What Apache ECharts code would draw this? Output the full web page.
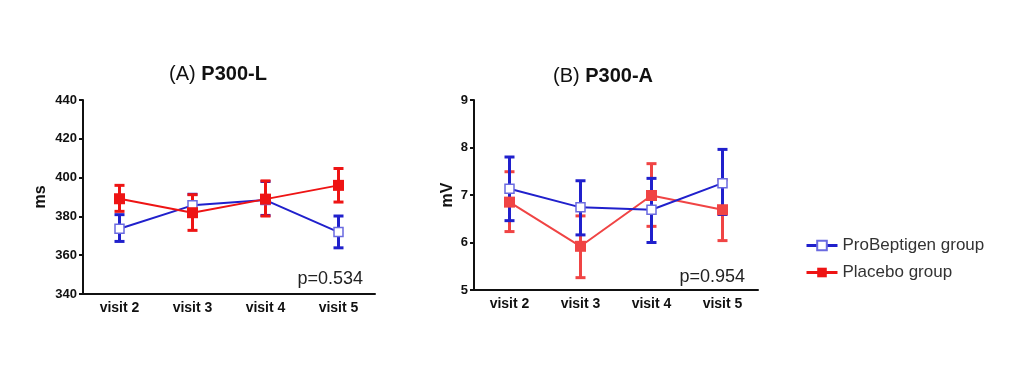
<!DOCTYPE html>
<html>
<head>
<meta charset="utf-8">
<script src="https://cdn.jsdelivr.net/npm/echarts@6/dist/echarts.min.js"></script>
<style>
html,body{margin:0;padding:0;background:#fff;}
#c{width:1024px;height:367px;}
</style>
</head>
<body>
<div id="c"></div>
<script>
const categories = ['visit 2', 'visit 3', 'visit 4', 'visit 5'];

// (A) P300-L (ms)
const aProMean = [373.6, 385.7, 388.4, 371.9];
const aProLow  = [367.1, 380.0, 380.5, 363.8];
const aProHigh = [380.9, 391.4, 398.0, 380.2];
const aPlaMean = [389.1, 381.9, 388.9, 396.0];
const aPlaLow  = [382.6, 372.8, 380.2, 387.4];
const aPlaHigh = [396.0, 391.2, 398.3, 404.7];
const aTicks = {min: 340, max: 440, interval: 20};

// (B) P300-A (mV)
const bProMean = [7.13, 6.74, 6.69, 7.25];
const bProLow  = [6.46, 6.16, 6.00, 6.59];
const bProHigh = [7.80, 7.30, 7.35, 7.96];
const bPlaMean = [6.85, 5.92, 6.99, 6.69];
const bPlaLow  = [6.23, 5.26, 6.34, 6.04];
const bPlaHigh = [7.49, 6.56, 7.66, 7.32];
const bTicks = {min: 5, max: 9, interval: 1};

const pA = 'p=0.534';
const pB = 'p=0.954';
const seriesNames = ['ProBeptigen group', 'Placebo group'];

const BLUE = '#2020cc';
const BLUE_M = '#6a6ae0';
const RED_A = '#ee1414';
const RED_B = '#f04444';
const FONT = 'Liberation Sans, Arial, sans-serif';

function errData(low, high) {
  return low.map((l, i) => [i, l, high[i]]);
}
function errSeries(name, low, high, color, axisIdx, z) {
  return {
    type: 'custom', name: name + ' (error)', xAxisIndex: axisIdx, yAxisIndex: axisIdx, z: z,
    data: errData(low, high),
    itemStyle: {color: color},
    renderItem: function (params, api) {
      const x = api.value(0);
      const lo = api.coord([x, api.value(1)]);
      const hi = api.coord([x, api.value(2)]);
      const hw = 5;
      const st = {stroke: color, lineWidth: 3};
      return {
        type: 'group',
        children: [
          {type: 'line', shape: {x1: lo[0], y1: lo[1], x2: hi[0], y2: hi[1]}, style: st},
          {type: 'line', shape: {x1: lo[0] - hw, y1: lo[1], x2: lo[0] + hw, y2: lo[1]}, style: st},
          {type: 'line', shape: {x1: hi[0] - hw, y1: hi[1], x2: hi[0] + hw, y2: hi[1]}, style: st}
        ]
      };
    }
  };
}
function lineSeries(name, data, color, hollow, axisIdx, z) {
  return {
    type: 'line', name: name, xAxisIndex: axisIdx, yAxisIndex: axisIdx, z: z,
    data: data,
    symbol: 'rect',
    symbolSize: hollow ? 9 : 11,
    lineStyle: {color: color, width: 2},
    itemStyle: hollow ? {color: '#ffffff', borderColor: BLUE_M, borderWidth: 1.5} : {color: color},
    emphasis: {disabled: true},
    animation: false
  };
}

const axisLabelStyle = {color: '#111', fontWeight: 'bold', fontFamily: FONT};
function xAxis(grid) {
  return {
    type: 'category', gridIndex: grid, data: categories,
    axisLine: {lineStyle: {color: '#111', width: 2}},
    axisTick: {alignWithLabel: true, length: 5, lineStyle: {color: '#111', width: 2}},
    axisLabel: Object.assign({fontSize: 14, margin: 7}, axisLabelStyle),
    splitLine: {show: false}
  };
}
function yAxis(grid, t, name, gap) {
  return {
    type: 'value', gridIndex: grid, min: t.min, max: t.max, interval: t.interval,
    name: name, nameLocation: 'middle', nameGap: gap, nameRotate: 90,
    nameTextStyle: {fontSize: 16, fontWeight: 'bold', color: '#111', fontFamily: FONT},
    axisLine: {show: true, lineStyle: {color: '#111', width: 2}},
    axisTick: {show: true, length: 4, lineStyle: {color: '#111', width: 2}},
    axisLabel: Object.assign({fontSize: 13, margin: 6}, axisLabelStyle),
    splitLine: {show: false}
  };
}

const titleRich = {
  n: {fontSize: 20, fontWeight: 'normal', color: '#111', fontFamily: FONT},
  b: {fontSize: 20, fontWeight: 'bold', color: '#111', fontFamily: FONT}
};

const chart = echarts.init(document.getElementById('c'));
chart.setOption({
  animation: false,
  backgroundColor: '#fff',
  textStyle: {fontFamily: FONT},
  title: [
    {text: '{n|(A)} {b|P300-L}', left: 213, top: 59, textAlign: 'center',
     textStyle: {fontSize: 20, fontWeight: 'normal', rich: titleRich}},
    {text: '{n|(B)} {b|P300-A}', left: 598, top: 61, textAlign: 'center',
     textStyle: {fontSize: 20, fontWeight: 'normal', rich: titleRich}}
  ],
  grid: [
    {left: 83, right: 649, top: 100, bottom: 73},
    {left: 474, right: 266, top: 100, bottom: 77}
  ],
  xAxis: [xAxis(0), xAxis(1)],
  yAxis: [yAxis(0, aTicks, 'ms', 34), yAxis(1, bTicks, 'mV', 18)],
  legend: {
    orient: 'vertical', left: 800, top: 232, itemGap: 10,
    itemWidth: 31, itemHeight: 12,
    lineStyle: {width: 3},
    data: seriesNames,
    textStyle: {fontSize: 17, color: '#333', fontFamily: FONT},
    selectedMode: false
  },
  graphic: [
    {type: 'text', right: 1024 - 363, top: 270, style: {text: pA, fill: '#222', font: '18px ' + FONT}},
    {type: 'text', right: 1024 - 745, top: 268, style: {text: pB, fill: '#222', font: '18px ' + FONT}}
  ],
  series: [
    errSeries(seriesNames[0], aProLow, aProHigh, BLUE, 0, 2),
    errSeries(seriesNames[1], aPlaLow, aPlaHigh, RED_A, 0, 3),
    lineSeries(seriesNames[0], aProMean, BLUE, true, 0, 4),
    lineSeries(seriesNames[1], aPlaMean, RED_A, false, 0, 5),
    errSeries(seriesNames[1], bPlaLow, bPlaHigh, RED_B, 1, 2),
    errSeries(seriesNames[0], bProLow, bProHigh, BLUE, 1, 3),
    lineSeries(seriesNames[1], bPlaMean, RED_B, false, 1, 4),
    lineSeries(seriesNames[0], bProMean, BLUE, true, 1, 5)
  ]
});
</script>
</body>
</html>
